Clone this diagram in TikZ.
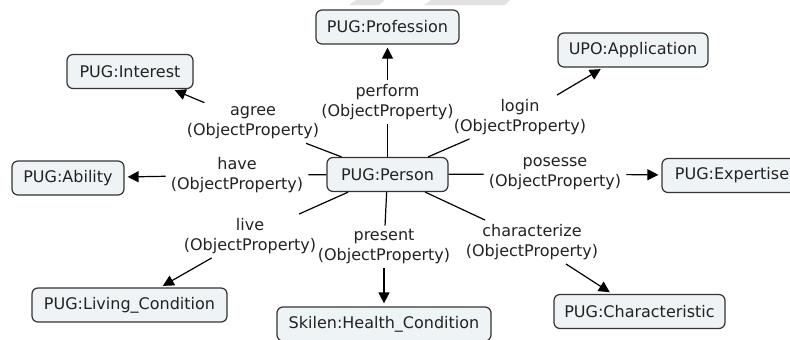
\documentclass[tikz,border=0pt]{standalone}
\usepackage{fontspec}
\setmainfont{DejaVu Sans}
\usetikzlibrary{arrows.meta}

\definecolor{conceptfill}{HTML}{EEF3F6}
\definecolor{conceptline}{HTML}{333333}
\definecolor{inktext}{HTML}{222222}
\definecolor{markgrey}{HTML}{E2E2E2}

\tikzset{
  concept/.style={draw=conceptline, fill=conceptfill, line width=1.2pt,
    rounded corners=6pt, minimum height=34pt, inner xsep=2pt, inner ysep=2pt,
    text=inktext, font=\fontsize{16}{20}\selectfont},
  relation/.style={align=center, inner xsep=5pt, inner ysep=4pt,
    text=inktext, font=\fontsize{16}{20}\selectfont},
  link/.style={draw=black, line width=1.2pt},
  linkto/.style={link, -{Triangle[length=11pt,width=11pt]}, shorten >=3pt}
}

\begin{document}
\begin{tikzpicture}[x=1pt,y=-1pt]
  \useasboundingbox (0,0) rectangle (790,340);
  \clip (0,0) rectangle (790,340);

  % pale marks along the upper edge
  \fill[markgrey] (356,0) -- (385,0) -- (379,5) -- (349,5) -- cycle;
  \fill[markgrey] (431,0) -- (510,0) -- (505,5) -- (424,5) -- cycle;

  % concepts
  \node[concept, minimum width=121pt] (person) at (387.5,174.5) {PUG:Person};
  \node[concept, minimum width=143pt] (prof)   at (387.5,27)    {PUG:Profession};
  \node[concept, minimum width=150pt] (app)    at (633,50)      {UPO:Application};
  \node[concept, minimum width=126pt] (intr)   at (130,71.5)    {PUG:Interest};
  \node[concept, minimum width=112pt] (abil)   at (68,178)      {PUG:Ability};
  \node[concept, minimum width=140pt] (expt)   at (732,175.5)   {PUG:Expertise};
  \node[concept, minimum width=195pt] (livc)   at (129.5,305)   {PUG:Living\_Condition};
  \node[concept, minimum width=214pt] (hlth)   at (384,324)     {Skilen:Health\_Condition};
  \node[concept, minimum width=171pt] (chrc)   at (639.5,311.5) {PUG:Characteristic};

  % relation labels
  \node[relation] (rperform) at (387.5,102) {perform\\(ObjectProperty)};
  \node[relation] (rlogin)   at (520,117)   {login\\(ObjectProperty)};
  \node[relation] (ragree)   at (253,123)   {agree\\(ObjectProperty)};
  \node[relation] (rhave)    at (237,175)   {have\\(ObjectProperty)};
  \node[relation] (rposs)    at (555,174)   {posesse\\(ObjectProperty)};
  \node[relation] (rlive)    at (250,236)   {live\\(ObjectProperty)};
  \node[relation] (rpres)    at (384,247)   {present\\(ObjectProperty)};
  \node[relation] (rchar)    at (532,242)   {characterize\\(ObjectProperty)};

  % connectors
  \draw[link] (person) -- (rperform);  \draw[linkto] (rperform) -- (prof);
  \draw[link] (person) -- (rlogin);    \draw[linkto] (rlogin) -- (app);
  \draw[link] (person) -- (ragree);    \draw[linkto] (ragree) -- (intr);
  \draw[link] (person) -- (rhave);     \draw[linkto] (rhave) -- (abil);
  \draw[link] (person) -- (rposs);     \draw[linkto] (rposs) -- (expt);
  \draw[link] (person) -- (rlive);     \draw[linkto] (rlive) -- (livc);
  \draw[link] (person) -- (rpres);     \draw[linkto] (rpres) -- (hlth);
  \draw[link] (person) -- (rchar);     \draw[linkto] (rchar) -- (chrc);
\end{tikzpicture}
\end{document}
